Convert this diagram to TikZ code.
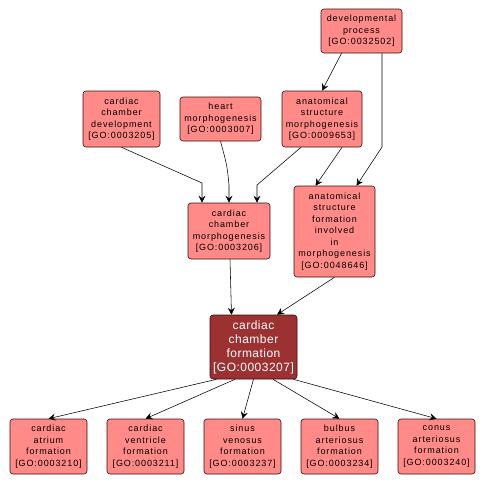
\documentclass[tikz,border=0pt]{standalone}
\usepackage{fontspec}
\setmainfont{Liberation Sans}
\newfontfamily\termfont[LetterSpace=10]{Liberation Sans}
\newfontfamily\hitfont[LetterSpace=4]{Liberation Sans}
\usetikzlibrary{positioning, calc, arrows.meta}

\definecolor{termfill}{HTML}{FF8A87}
\definecolor{termline}{HTML}{3A0A0A}
\definecolor{hitfill}{HTML}{9C3131}

\tikzset{
  term/.style={draw=termline, fill=termfill, rounded corners=3pt, align=center,
    inner sep=0pt, line width=0.6pt, font=\termfont\fontsize{9}{11.5}\selectfont},
  hit/.style={term, fill=hitfill, text=white, font=\hitfont\fontsize{12}{14}\selectfont},
  edge/.style={-{Stealth[length=7pt,width=7pt,inset=2.5pt]}, black, line width=0.55pt}
}

\begin{document}
\begin{tikzpicture}[x=1pt, y=-1pt]
    \useasboundingbox (0,0) rectangle (486,485);

    \node[term, minimum width=81, minimum height=44] (dev) at (361.5,31) {developmental\\process\\{}[GO:0032502]};
    \node[term, minimum width=77, minimum height=56] (ccd) at (121.5,119) {cardiac\\chamber\\development\\{}[GO:0003205]};
    \node[term, minimum width=81, minimum height=44] (hm) at (220.5,119) {heart\\morphogenesis\\{}[GO:0003007]};
    \node[term, minimum width=80, minimum height=56] (asm) at (322,119) {anatomical\\structure\\morphogenesis\\{}[GO:0009653]};
    \node[term, minimum width=82, minimum height=56] (ccm) at (229,231) {cardiac\\chamber\\morphogenesis\\{}[GO:0003206]};
    \node[term, minimum width=81, minimum height=91] (asfim) at (334.5,231.5) {anatomical\\structure\\formation\\involved\\in\\morphogenesis\\{}[GO:0048646]};
    \node[hit, minimum width=87, minimum height=64] (ccf) at (253.5,347) {cardiac\\chamber\\formation\\{}[GO:0003207]};

    \foreach \n/\x/\d/\t in {caf/48.5/-37/{cardiac\\atrium\\formation\\{}[GO:0003210]},
                             cvf/145.5/-18.5/{cardiac\\ventricle\\formation\\{}[GO:0003211]},
                             svf/242.5/0/{sinus\\venosus\\formation\\{}[GO:0003237]},
                             baf/339.5/19.5/{bulbus\\arteriosus\\formation\\{}[GO:0003234]},
                             conaf/436.5/40/{conus\\arteriosus\\formation\\{}[GO:0003240]}}
    {
        \node[term, minimum width=77, minimum height=55] (\n) at (\x,446.5) {\t};
        \draw[edge] ([xshift=\d]ccf.south) -- (\n.north);
    }

    \draw[edge] ([xshift=-20]dev.south) -- (asm.north);
    \draw[edge] ([xshift=20.5]dev.south) -- (382,147) -- ([xshift=22]asfim.north);
    \draw[edge] ([xshift=20]asm.south) -- ([xshift=-19]asfim.north);
    \draw[edge] ([xshift=-21]asm.south) -- (257,185) -- ([xshift=28]ccm.north);
    \draw[edge] (hm.south) .. controls (227,165) .. (229,185) -- (ccm.north);
    \draw[edge] (ccd.south) -- (202,183) -- ([xshift=-27]ccm.north);
    \draw[edge] ([xshift=1]ccm.south) -- ([xshift=-22]ccf.north);
    \draw[edge] (asfim.south) -- ([xshift=23.5]ccf.north);
\end{tikzpicture}
\end{document}
